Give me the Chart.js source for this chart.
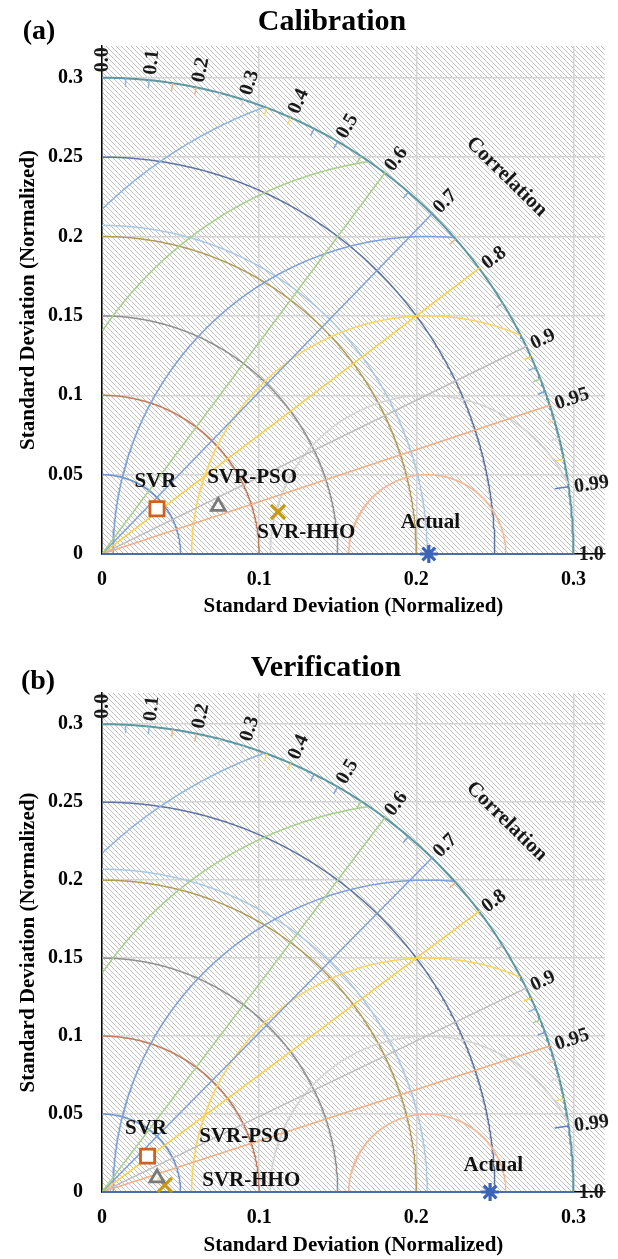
<!DOCTYPE html>
<html><head><meta charset="utf-8">
<script src="https://cdn.jsdelivr.net/npm/chart.js@4.4.1/dist/chart.umd.min.js"></script>
<style>
html,body{margin:0;padding:0;background:#fff;}
#wrap{position:relative;width:618px;height:1259px;overflow:hidden;}
.panel{position:absolute;left:0;}
canvas{display:block;}
</style></head><body>
<div id="wrap">
<div class="panel" style="top:0;"><canvas id="cA" width="618" height="620"></canvas></div>
<div class="panel" style="top:620px;"><canvas id="cB" width="618" height="639"></canvas></div>
</div>
<script>
// ---------------- DATA ----------------
const modelNames = ['SVR', 'SVR-PSO', 'SVR-HHO'];
const actualName = 'Actual';
// (a) Calibration: model points (x, y in normalized std-dev units)
const calibX = [0.035, 0.074, 0.112];
const calibY = [0.0285, 0.030, 0.0265];
const calibActual = 0.208;
// (b) Verification
const verifX = [0.029, 0.035, 0.040];
const verifY = [0.023, 0.009, 0.0045];
const verifActual = 0.247;

const xTickValues = [0, 0.1, 0.2, 0.3];
const yTickValues = [0, 0.05, 0.1, 0.15, 0.2, 0.25, 0.3];
const stdArcRadii = [0.05, 0.1, 0.15, 0.2, 0.25, 0.3];
const refStd = 0.207;
const rmsdRadii = [0.05, 0.1, 0.15, 0.2, 0.25, 0.3];
const corrRays = [0.6, 0.7, 0.8, 0.9, 0.95];
const corrLabels = ['0.0','0.1','0.2','0.3','0.4','0.5','0.6','0.7','0.8','0.9','0.95','0.99','1.0'];
const corrTicks = [0.05,0.1,0.15,0.2,0.25,0.3,0.35,0.4,0.45,0.5,0.55,0.65,0.75,0.85,0.91,0.92,0.93,0.94,0.96,0.97,0.98,0.99];

// ---------------- STYLE / LAYOUT ----------------
const SERIF = '"Liberation Serif", "Times New Roman", serif';
const stdArcColors = ['#6e93cf','#c27b5c','#8f8f8f','#b39a55','#5c73a3','#5b98a3'];
const refStdColor = '#a8c8e6';
const rmsdColors = ['#f5b895','#d3d3d3','#ffd45c','#7d9fdb','#a6d08a','#8db3df'];
const rayColors = ['#a6d08a','#7d9fdb','#ffcf40','#bdbdbd','#f4ad7f'];
const tickColors = ['#8db3df','#8db3df','#f4b183','#f4b183','#d6d6d6','#d6d6d6','#ffd966','#ffd966','#7d9fdb','#7d9fdb',
  '#a6d08a','#7d9fdb','#f4b183','#bdbdbd','#ffcf40','#8db3df','#a6d08a','#7d9fdb','#f8cbad','#d9d9d9','#ffd966','#5b7fc0'];
const markerStyles = [
  {pointStyle:'rect', radius:10, color:'#d0601c', width:2.8, bg:'#ffffff'},
  {pointStyle:'triangle', radius:8, color:'#7a7a7a', width:2.8, bg:'rgba(255,255,255,0.7)'},
  {pointStyle:'crossRot', radius:10, color:'#c99a10', width:3.2, bg:'#c99a10'},
];
const actualStyle = {pointStyle:'star', radius:9, color:'#3b64b8', width:3.2};

const panels = [
  { id:'cA', W:618, H:620, left:102, right:614, top:46, bottom:554,
    title:'Calibration', titleX:332, titleY:22, tag:'(a)', tagX:39, tagY:32,
    xs:calibX, ys:calibY, actual:calibActual,
    labelAnchors:[[0.034,0.0455],[0.0955,0.048],[0.130,0.0135],[0.209,0.020]] },
  { id:'cB', W:618, H:639, left:102, right:612, top:73, bottom:572,
    title:'Verification', titleX:326, titleY:48, tag:'(b)', tagX:38, tagY:62,
    xs:verifX, ys:verifY, actual:verifActual,
    labelAnchors:[[0.028,0.0405],[0.0905,0.0355],[0.095,0.0075],[0.249,0.0167]] },
];

// ---------------- GEOMETRY HELPERS ----------------
function arcPoints(cx, r, limit) {
  const pts = [];
  const n = 720;
  for (let i = 0; i <= n; i++) {
    const a = Math.PI * i / n;
    const x = cx + r * Math.cos(a), y = r * Math.sin(a);
    if (x >= -1e-9 && x * x + y * y <= limit * limit + 1e-9) pts.push({x, y});
  }
  return pts;
}
function rayPoints(c, r0, r1) {
  const t = Math.acos(c);
  return [{x: r0 * Math.cos(t), y: r0 * Math.sin(t)}, {x: r1 * Math.cos(t), y: r1 * Math.sin(t)}];
}
function lineDs(data, color, width) {
  return {data, showLine:true, borderColor:color, borderWidth:width, pointRadius:0, pointHoverRadius:0,
    fill:false, tension:0, order:2};
}
const OUTER = stdArcRadii[stdArcRadii.length - 1];

function buildDatasets(p) {
  const ds = [];
  // model markers + actual (drawn on top)
  modelNames.forEach((name, i) => {
    const s = markerStyles[i];
    ds.push({label:name, data:[{x:p.xs[i], y:p.ys[i]}], pointStyle:s.pointStyle, pointRadius:s.radius,
      pointBorderColor:s.color, pointBackgroundColor:s.bg, pointBorderWidth:s.width, showLine:false, order:0, clip:false});
  });
  ds.push({label:actualName, data:[{x:p.actual, y:0}], pointStyle:actualStyle.pointStyle, pointRadius:actualStyle.radius,
    pointBorderColor:actualStyle.color, pointBackgroundColor:actualStyle.color, pointBorderWidth:actualStyle.width,
    showLine:false, order:0, clip:false});
  // correlation = 1 line along x axis
  ds.push(Object.assign(lineDs(rayPoints(1, 0, OUTER), '#4a6fa8', 2), {order:1, clip:false}));
  // correlation rays
  corrRays.forEach((c, i) => ds.push(lineDs(rayPoints(c, 0, OUTER + 0.001), rayColors[i], 1.5)));
  // correlation ticks on the outer circle
  corrTicks.forEach((c, i) => ds.push(lineDs(rayPoints(c, c === 0.99 ? OUTER - 0.009 : OUTER - 0.005, OUTER), tickColors[i], 1.5)));
  // RMSD arcs around the reference point
  rmsdRadii.forEach((r, i) => ds.push(lineDs(arcPoints(refStd, r, OUTER), rmsdColors[i], 1.5)));
  // reference std arc
  ds.push(lineDs(arcPoints(0, refStd, OUTER), refStdColor, 1.5));
  // std arcs
  stdArcRadii.forEach((r, i) => ds.push(lineDs(arcPoints(0, r, OUTER), stdArcColors[i], i === stdArcRadii.length - 1 ? 2 : 1.5)));
  return ds;
}

// hatch pattern
function makeHatch(ctx) {
  const s = 5;
  const c = document.createElement('canvas');
  c.width = s; c.height = s;
  const g = c.getContext('2d');
  g.strokeStyle = 'rgba(150,150,150,0.6)';
  g.lineWidth = 1;
  g.beginPath();
  g.moveTo(-1, -1); g.lineTo(s + 1, s + 1);
  g.moveTo(s - 1, -1); g.lineTo(s + 1, 1);
  g.moveTo(-1, s - 1); g.lineTo(1, s + 1);
  g.stroke();
  return ctx.createPattern(c, 'repeat');
}

const decoPlugin = {
  id: 'taylorDeco',
  beforeDraw(chart) {
    const {ctx, chartArea: a} = chart;
    ctx.save();
    ctx.fillStyle = makeHatch(ctx);
    ctx.fillRect(a.left, a.top, a.right - a.left, a.bottom - a.top);
    ctx.restore();
  },
  afterDraw(chart) {
    const p = chart.options.plugins.taylorDeco;
    const {ctx} = chart;
    const xs = chart.scales.x, ys = chart.scales.y;
    ctx.save();
    // title and tag
    ctx.fillStyle = '#000';
    ctx.textBaseline = 'middle';
    ctx.textAlign = 'center';
    ctx.font = 'bold 30px ' + SERIF;
    ctx.fillText(p.title, p.titleX, p.titleY);
    ctx.font = 'bold 28px ' + SERIF;
    ctx.fillText(p.tag, p.tagX, p.tagY);
    // correlation labels
    ctx.font = 'bold 20px ' + SERIF;
    ctx.fillStyle = '#1a1a1a';
    ctx.textAlign = 'left';
    const R = OUTER + 0.0035;
    corrLabels.forEach(lbl => {
      const t = Math.acos(parseFloat(lbl));
      const px = xs.getPixelForValue(R * Math.cos(t));
      const py = ys.getPixelForValue(R * Math.sin(t));
      ctx.save();
      ctx.translate(px, py);
      ctx.rotate(-t);
      ctx.fillText(lbl, 0, 1);
      ctx.restore();
    });
    // "Correlation" axis name
    ctx.save();
    ctx.font = 'bold 21px ' + SERIF;
    ctx.textAlign = 'center';
    ctx.translate(xs.getPixelForValue(0.2575), ys.getPixelForValue(0.2376));
    ctx.rotate(44.5 * Math.PI / 180);
    ctx.fillText('Correlation', 0, 0);
    ctx.restore();
    // point labels
    ctx.font = 'bold 21px ' + SERIF;
    ctx.fillStyle = '#111';
    ctx.textAlign = 'center';
    const names = modelNames.concat([actualName]);
    names.forEach((n, i) => {
      const [lx, ly] = p.labelAnchors[i];
      ctx.fillText(n, xs.getPixelForValue(lx), ys.getPixelForValue(ly));
    });
    ctx.restore();
  }
};

function fmt(v) { return String(+Number(v).toFixed(2)); }

panels.forEach(p => {
  const canvas = document.getElementById(p.id);
  new Chart(canvas, {
    type: 'scatter',
    data: {datasets: buildDatasets(p)},
    plugins: [decoPlugin],
    options: {
      responsive: false,
      animation: false,
      events: [],
      devicePixelRatio: 1,
      layout: {padding: {left: 0, right: p.W - p.right, top: p.top, bottom: 0}},
      plugins: {
        legend: {display: false},
        tooltip: {enabled: false},
        title: {display: false},
        taylorDeco: p,
      },
      scales: {
        x: {
          type: 'linear', min: 0, max: 0.32,
          afterBuildTicks: s => { s.ticks = xTickValues.map(v => ({value: v})); },
          afterFit: s => { s.height = p.H - p.bottom; },
          grid: {color: '#d4d4d4', lineWidth: 1.5, drawTicks: false},
          border: {color: '#000', width: 1.5},
          ticks: {font: {family: SERIF, size: 20, weight: 'bold'}, color: '#000', padding: 14, autoSkip: false, maxRotation: 0, callback: fmt},
          title: {display: true, text: 'Standard Deviation (Normalized)', color: '#000',
            font: {family: SERIF, size: 21, weight: 'bold'}, padding: {top: 0, bottom: 1}}
        },
        y: {
          type: 'linear', min: 0, max: 0.32,
          afterBuildTicks: s => { s.ticks = yTickValues.map(v => ({value: v})); },
          afterFit: s => { s.width = p.left; },
          grid: {color: '#d4d4d4', lineWidth: 1.5, drawTicks: false},
          border: {color: '#000', width: 1.5},
          ticks: {font: {family: SERIF, size: 20, weight: 'bold'}, color: '#000', padding: 19, autoSkip: false, callback: fmt},
          title: {display: true, text: 'Standard Deviation (Normalized)', color: '#000',
            font: {family: SERIF, size: 21, weight: 'bold'}, padding: {top: 16, bottom: 0}}
        }
      }
    }
  });
});
</script>
</body></html>
